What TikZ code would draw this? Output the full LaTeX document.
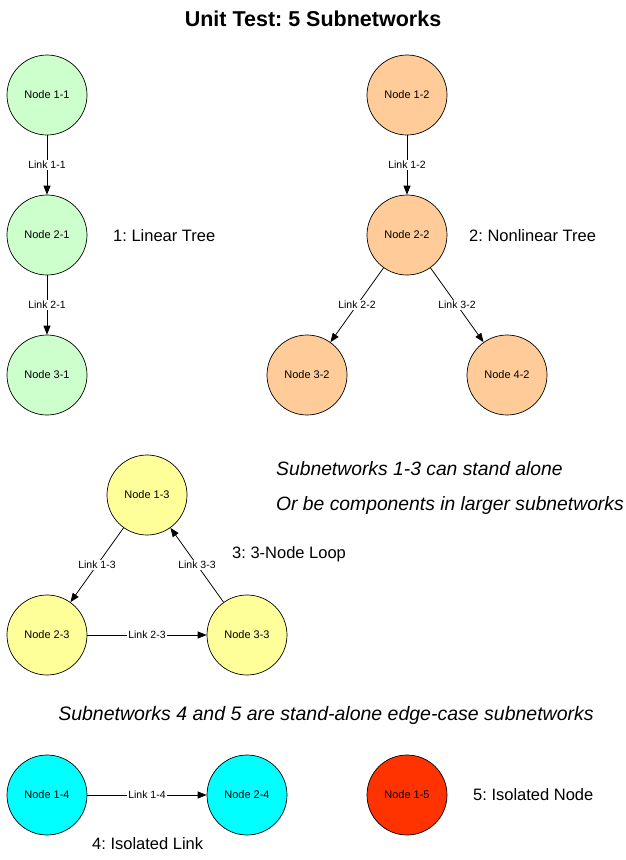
\documentclass[tikz,border=0pt]{standalone}
\usepackage{fontspec}
\setmainfont{Liberation Sans}
\usetikzlibrary{arrows.meta}
\definecolor{cgreen}{HTML}{CCFFCC}
\definecolor{corange}{HTML}{FFCC99}
\definecolor{cyellow}{HTML}{FFFF99}
\definecolor{ccyan}{HTML}{00FFFF}
\definecolor{cred}{HTML}{FF3300}
\frenchspacing
\tikzset{
  netnode/.style={circle, draw=black, line width=0.7pt, minimum size=80pt, inner sep=0pt, font=\fontsize{11}{13}\selectfont},
  link/.style={draw=black, line width=0.8pt, -{Triangle[length=9pt,width=7pt]}},
  linklabel/.style={fill=white, inner sep=1pt, font=\fontsize{10.5}{12}\selectfont},
  caption/.style={anchor=west, inner sep=0pt, font=\fontsize{16.5}{20}\selectfont},
  note/.style={anchor=west, inner sep=0pt, font=\fontsize{19.3}{23}\itshape\selectfont}
}
\begin{document}
\begin{tikzpicture}[x=1pt,y=-1pt]
\useasboundingbox (0,0) rectangle (626,860);
\node[font=\fontsize{21.5}{26}\bfseries\selectfont] (title) at (313,19) {Unit Test: 5 Subnetworks};
% subnetwork 1
\node[netnode, fill=cgreen] (n11) at (47,95) {Node 1-1};
\node[netnode, fill=cgreen] (n21) at (47,235) {Node 2-1};
\node[netnode, fill=cgreen] (n31) at (47,375) {Node 3-1};
\draw[link] (n11) -- node[linklabel] {Link 1-1} (n21);
\draw[link] (n21) -- node[linklabel] {Link 2-1} (n31);
\node[caption] (c1) at (113,236) {1: Linear Tree};
% subnetwork 2
\node[netnode, fill=corange] (n12) at (407,95) {Node 1-2};
\node[netnode, fill=corange] (n22) at (407,235) {Node 2-2};
\node[netnode, fill=corange] (n32) at (307,375) {Node 3-2};
\node[netnode, fill=corange] (n42) at (507,375) {Node 4-2};
\draw[link] (n12) -- node[linklabel] {Link 1-2} (n22);
\draw[link] (n22) -- node[linklabel] {Link 2-2} (n32);
\draw[link] (n22) -- node[linklabel] {Link 3-2} (n42);
\node[caption] (c2) at (469,236) {2: Nonlinear Tree};
% subnetwork 3
\node[netnode, fill=cyellow] (n13) at (147,495) {Node 1-3};
\node[netnode, fill=cyellow] (n23) at (47,635) {Node 2-3};
\node[netnode, fill=cyellow] (n33) at (247,635) {Node 3-3};
\draw[link] (n13) -- node[linklabel] {Link 1-3} (n23);
\draw[link] (n23) -- node[linklabel] {Link 2-3} (n33);
\draw[link] (n33) -- node[linklabel] {Link 3-3} (n13);
\node[caption] (c3) at (232,554) {3: 3-Node Loop};
\node[note] (note1) at (276,469) {Subnetworks 1-3 can stand alone};
\node[note] (note2) at (276,506) {Or be components in larger subnetworks};
\node[font=\fontsize{19.5}{23}\itshape\selectfont, inner sep=0pt] (note3) at (326,715) {Subnetworks 4 and 5 are stand-alone edge-case subnetworks};
% subnetwork 4
\node[netnode, fill=ccyan] (n14) at (47,795) {Node 1-4};
\node[netnode, fill=ccyan] (n24) at (247,795) {Node 2-4};
\draw[link] (n14) -- node[linklabel] {Link 1-4} (n24);
\node[caption] (c4) at (92,844) {4: Isolated Link};
% subnetwork 5
\node[netnode, fill=cred] (n15) at (407,795) {Node 1-5};
\node[caption] (c5) at (473,795) {5: Isolated Node};
\end{tikzpicture}
\end{document}
